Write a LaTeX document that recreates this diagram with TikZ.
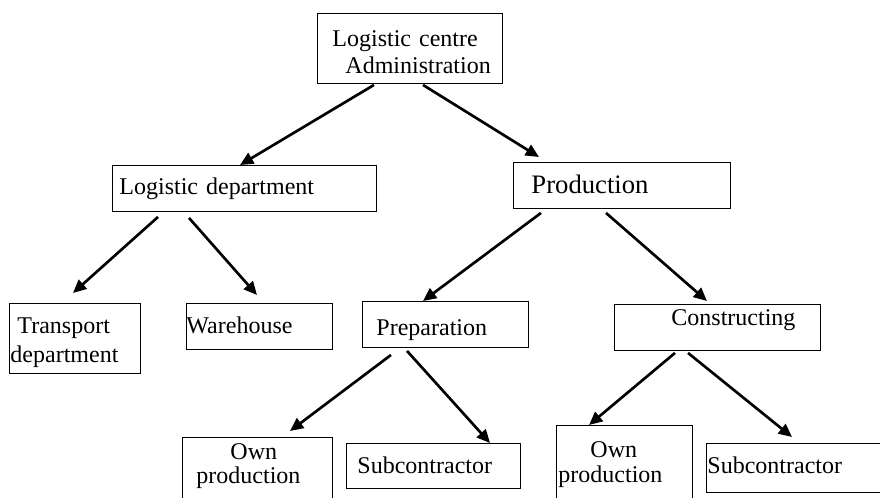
\documentclass[tikz,border=0pt]{standalone}
\usepackage{fontspec}
\setmainfont{Liberation Serif}
\usetikzlibrary{arrows.meta}
\newdimen\px
\px=0.75pt
\tikzset{
  box/.style={draw, line width=0.7pt, inner sep=0pt, anchor=north west, align=left,
    font=\fontsize{18pt}{18pt}\selectfont},
  arr/.style={line width=2pt, -{Triangle[length=10pt,width=9pt]}}
}
\begin{document}
\begin{tikzpicture}[x=0.75pt,y=-0.75pt]
\useasboundingbox (0,0) rectangle (880,497);

%administration
\node[box, text width=185\px, text height=33\px, text depth=37\px,
  font=\fontsize{18pt}{20.25pt}\selectfont] (admin) at (317,13)
  {\hspace*{15\px}Logistic centre\\\hspace*{28\px}Administration};

%second level
\node[box, text width=264\px, text height=29\px, text depth=17\px] (logdep) at (112,165)
  {\hspace*{7\px}Logistic department};
\node[box, text width=217\px, text height=31\px, text depth=15\px,
  font=\fontsize{20pt}{20pt}\selectfont] (prod) at (513,162)
  {\hspace*{18\px}Production};

%third level
\node[box, text width=131\px, text height=30\px, text depth=40\px,
  font=\fontsize{18pt}{21.75pt}\selectfont] (transp) at (9,303)
  {\hspace*{8\px}Transport\\\hspace*{1\px}department};
\node[box, text width=146\px, text height=30\px, text depth=16\px] (ware) at (186,303)
  {Warehouse};
\node[box, text width=166\px, text height=34\px, text depth=12\px] (prep) at (362,301)
  {\hspace*{14\px}Preparation};
\node[box, text width=206\px, text height=21\px, text depth=25\px] (constr) at (614,304)
  {\hspace*{57\px}Constructing};

%fourth level
\node[box, text width=150\px, text height=22\px, text depth=58\px,
  font=\fontsize{18pt}{18pt}\selectfont] (ownA) at (182,437)
  {\hspace*{48\px}Own\\\hspace*{14\px}production};
\node[box, text width=174\px, text height=30\px, text depth=15\px] (subA) at (346,443)
  {\hspace*{11\px}Subcontractor};
\node[box, text width=136\px, text height=32\px, text depth=58\px,
  font=\fontsize{18pt}{18.75pt}\selectfont] (ownB) at (556,425)
  {\hspace*{34\px}Own\\\hspace*{2\px}production};
\node[box, text width=175\px, text height=30\px, text depth=19\px] (subB) at (706,443)
  {\hspace*{1\px}Subcontractor};

%arrows
\draw[arr] ([shift={(57,1)}]admin.south west) -- ([shift={(128,0)}]logdep.north west);
\draw[arr] ([shift={(106,1)}]admin.south west) -- ([shift={(26,-5)}]prod.north west);
\draw[arr] ([shift={(46,5)}]logdep.south west) -- ([shift={(64,-10)}]transp.north west);
\draw[arr] ([shift={(77,6)}]logdep.south west) -- ([shift={(71,-8)}]ware.north west);
\draw[arr] ([shift={(28,4)}]prod.south west) -- ([shift={(61,0)}]prep.north west);
\draw[arr] ([shift={(93,4)}]prod.south west) -- ([shift={(93,-3)}]constr.north west);
\draw[arr] ([shift={(29,7)}]prep.south west) -- ([shift={(108,-6)}]ownA.north west);
\draw[arr] ([shift={(45,3)}]prep.south west) -- ([shift={(144,0)}]subA.north west);
\draw[arr] ([shift={(61,2)}]constr.south west) -- ([shift={(33,0)}]ownB.north west);
\draw[arr] ([shift={(74,2)}]constr.south west) -- ([shift={(86,-6)}]subB.north west);
\end{tikzpicture}
\end{document}
